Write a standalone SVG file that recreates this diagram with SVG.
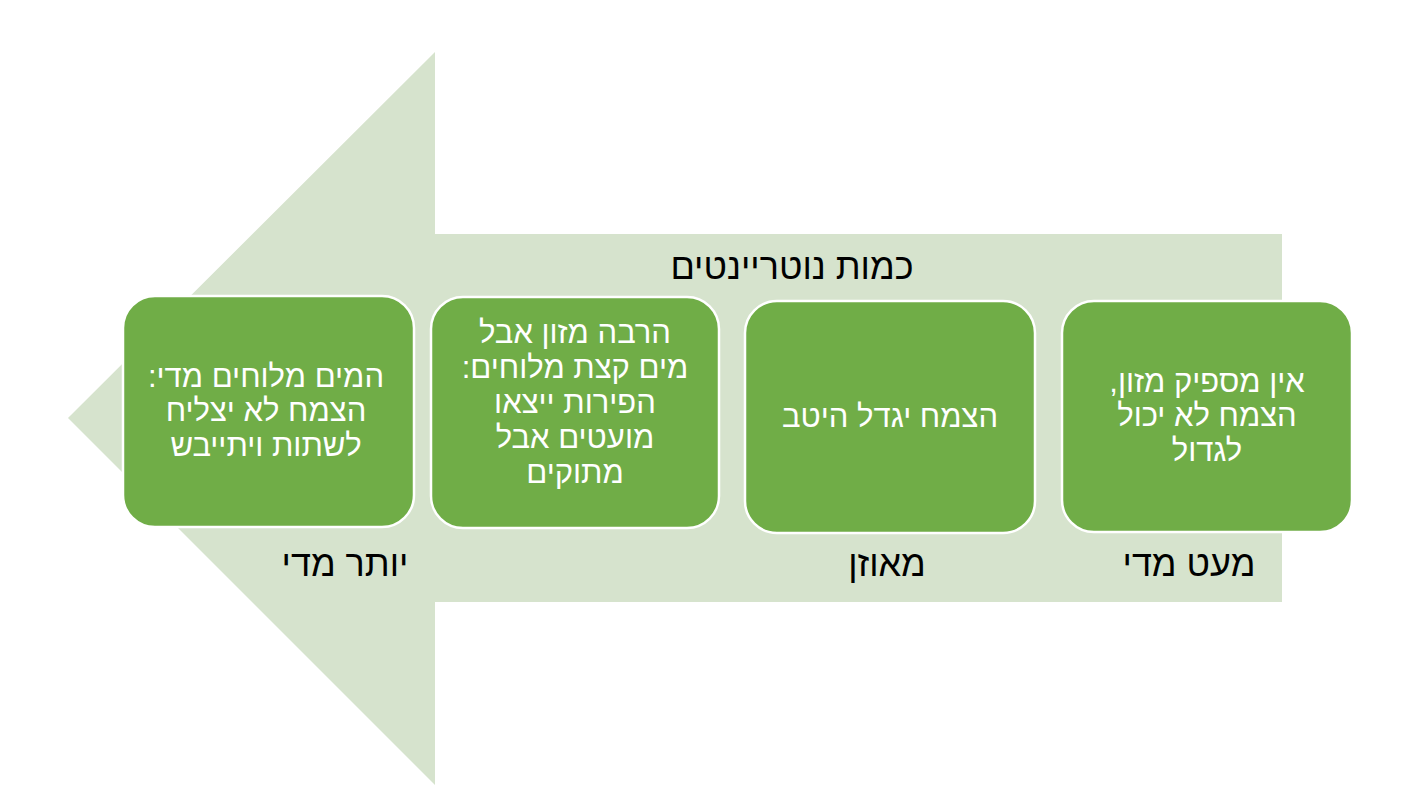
<svg xmlns="http://www.w3.org/2000/svg" width="1408" height="812" viewBox="0 0 1408 812">
  <style>
    .arrow { fill: #d6e3cd; }
    .box { fill: #70ad47; stroke: #ffffff; stroke-width: 2.5; }
    .bt { font-family: "Liberation Sans", "DejaVu Sans", sans-serif; font-size: 31px; fill: #ffffff; text-anchor: middle; direction: rtl; }
    .lbl { font-family: "Liberation Sans", "DejaVu Sans", sans-serif; font-size: 36px; fill: #000000; text-anchor: middle; direction: rtl; }
  </style>
  <rect width="1408" height="812" fill="#ffffff"/>
  <g id="arrow">
    <polygon class="arrow" points="68,418 435,52 435,234 1282,234 1282,602 435,602 435,785"/>
  </g>
  <g id="title">
    <text class="lbl" x="792" y="279">כמות נוטריינטים</text>
  </g>
  <g id="node-too-much">
    <rect class="box" x="123" y="296" width="291" height="231" rx="32" ry="32"/>
    <text class="bt" x="266" y="387">המים מלוחים מדי:</text>
    <text class="bt" x="266" y="421">הצמח לא יצליח</text>
    <text class="bt" x="266" y="456">לשתות ויתייבש</text>
    <text class="lbl" x="345" y="576">יותר מדי</text>
  </g>
  <g id="node-somewhat-much">
    <rect class="box" x="431" y="297" width="288" height="231" rx="32" ry="32"/>
    <text class="bt" x="575" y="343">הרבה מזון אבל</text>
    <text class="bt" x="575" y="378">מים קצת מלוחים:</text>
    <text class="bt" x="575" y="413">הפירות ייצאו</text>
    <text class="bt" x="575" y="448">מועטים אבל</text>
    <text class="bt" x="575" y="483">מתוקים</text>
  </g>
  <g id="node-balanced">
    <rect class="box" x="745" y="301" width="290" height="232" rx="32" ry="32"/>
    <text class="bt" x="890" y="427">הצמח יגדל היטב</text>
    <text class="lbl" x="887" y="576">מאוזן</text>
  </g>
  <g id="node-too-little">
    <rect class="box" x="1062" y="301" width="290" height="231" rx="32" ry="32"/>
    <text class="bt" x="1207" y="392">אין מספיק מזון,</text>
    <text class="bt" x="1207" y="426">הצמח לא יכול</text>
    <text class="bt" x="1207" y="461">לגדול</text>
    <text class="lbl" x="1189" y="576">מעט מדי</text>
  </g>
  <g id="connectors"></g>
</svg>
